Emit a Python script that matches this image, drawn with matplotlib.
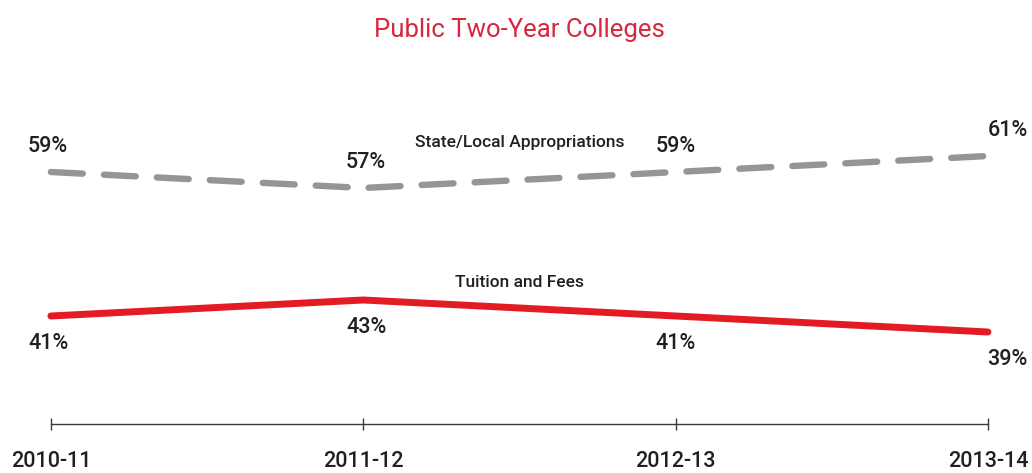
import matplotlib.pyplot as plt

years = ['2010-11', '2011-12', '2012-13', '2013-14']
state_local = [59, 57, 59, 61]
tuition = [41, 43, 41, 39]

plt.rcParams['font.family'] = ['Roboto', 'DejaVu Sans']

fig = plt.figure(figsize=(10.32, 4.73), dpi=100)
ax = fig.add_axes([0, 0, 1, 1])
x = list(range(len(years)))

ax.plot(x, state_local, color='#939598', lw=4.6, dashes=(5.0, 3.3),
        dash_capstyle='round', solid_capstyle='round')
ax.plot(x, tuition, color='#e31b23', lw=5, solid_capstyle='round')

# value labels
gray_dx = [-2, 2, 0, 14]
red_dx = [-2, 2, 0, 14]
for i, v in enumerate(state_local):
    ax.annotate(f'{v}%', (x[i], v), xytext=(gray_dx[i], 18), textcoords='offset points',
                ha='center', va='center', fontsize=15.5, fontweight='medium', color='#231f20')
for i, v in enumerate(tuition):
    ax.annotate(f'{v}%', (x[i], v), xytext=(red_dx[i], -20), textcoords='offset points',
                ha='center', va='center', fontsize=15.5, fontweight='medium', color='#231f20')

ax.text(1.5, 62.7, 'State/Local Appropriations', ha='center', va='center',
        fontsize=12.5, fontweight='medium', color='#231f20')
ax.text(1.5, 45.2, 'Tuition and Fees', ha='center', va='center',
        fontsize=12.5, fontweight='medium', color='#231f20')

fig.text(0.503, 0.937, 'Public Two-Year Colleges', ha='center', va='center',
         fontsize=18.5, color='#d7263d')

ax.set_xlim(-0.163, 3.141)
ax.set_ylim(21.375, 80.5)
for s in ['top', 'left', 'right']:
    ax.spines[s].set_visible(False)
ax.spines['bottom'].set_position(('data', 27.5))
ax.spines['bottom'].set_bounds(0, 3)
ax.spines['bottom'].set_color('#3a3a3a')
ax.spines['bottom'].set_linewidth(1)
ax.set_yticks([])
ax.set_xticks(x)
ax.set_xticklabels(years, fontweight='medium')
ax.tick_params(axis='x', direction='inout', length=9, width=1, color='#3a3a3a',
               labelsize=15.5, labelcolor='#231f20', pad=15)

fig.savefig('out.png', dpi=100)
